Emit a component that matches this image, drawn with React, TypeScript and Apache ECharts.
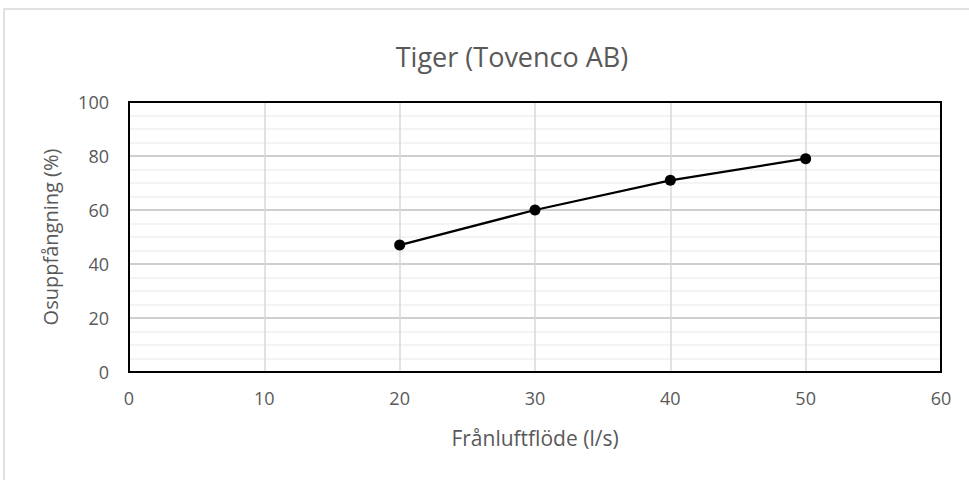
import React, { useEffect, useRef } from "react";
import * as echarts from "echarts";

const titleText = "Tiger (Tovenco AB)";
const xAxisName = "Frånluftflöde (l/s)";
const yAxisName = "Osuppfångning (%)";
const flowValues = [20, 30, 40, 50];
const captureValues = [47, 60, 71, 79];

const FONT = "'Open Sans', 'Noto Sans', sans-serif";
const TEXT = "#595959";

export default function App() {
  const ref = useRef<HTMLDivElement>(null);
  useEffect(() => {
    document.body.style.margin = "0";
    if (!ref.current) return;
    const chart = echarts.init(ref.current, undefined, { renderer: "svg" });
    const data = flowValues.map((x, i) => [x, captureValues[i]]);
    chart.setOption({
      animation: false,
      backgroundColor: "#ffffff",
      title: {
        text: titleText,
        left: 507,
        top: 38,
        textAlign: "center",
        textStyle: { fontFamily: FONT, fontSize: 27, fontWeight: "normal", color: TEXT },
      },
      graphic: [
        {
          type: "rect",
          shape: { x: 4, y: 9, width: 1000, height: 500 },
          style: { fill: "none", stroke: "#d9d9d9", lineWidth: 1.5 },
          silent: true,
          z: -10,
        },
      ],
      grid: {
        left: 129,
        right: 969 - 941,
        top: 102,
        bottom: 480 - 372,
        show: true,
        borderColor: "#000000",
        borderWidth: 2,
        z: 10,
      },
      xAxis: {
        type: "value",
        min: 0,
        max: 60,
        interval: 10,
        name: xAxisName,
        nameLocation: "middle",
        nameGap: 55,
        nameTextStyle: { fontFamily: FONT, fontSize: 21, color: TEXT },
        axisLine: { show: true, lineStyle: { color: "#000", width: 2 } },
        axisTick: { show: false },
        axisLabel: { fontFamily: FONT, fontSize: 18, color: TEXT, margin: 17 },
        splitLine: { show: true, lineStyle: { color: "#d9d9d9", width: 1.5 } },
      },
      yAxis: {
        type: "value",
        min: 0,
        max: 100,
        interval: 20,
        name: yAxisName,
        nameLocation: "middle",
        nameGap: 69,
        nameTextStyle: { fontFamily: FONT, fontSize: 20, color: TEXT },
        axisLine: { show: true, lineStyle: { color: "#000", width: 2 } },
        axisTick: { show: false },
        axisLabel: { fontFamily: FONT, fontSize: 18, color: TEXT, margin: 20 },
        splitLine: { show: true, lineStyle: { color: "#bfbfbf", width: 1.5 } },
        minorTick: { show: false, splitNumber: 4 },
        minorSplitLine: { show: true, lineStyle: { color: "#f0f0f0", width: 1.5 } },
      },
      series: [
        {
          type: "line",
          data,
          symbol: "circle",
          symbolSize: 11,
          itemStyle: { color: "#000000" },
          lineStyle: { color: "#000000", width: 2.25 },
          z: 20,
        },
      ],
    });
    return () => chart.dispose();
  }, []);
  return <div ref={ref} style={{ width: 969, height: 480 }} />;
}
